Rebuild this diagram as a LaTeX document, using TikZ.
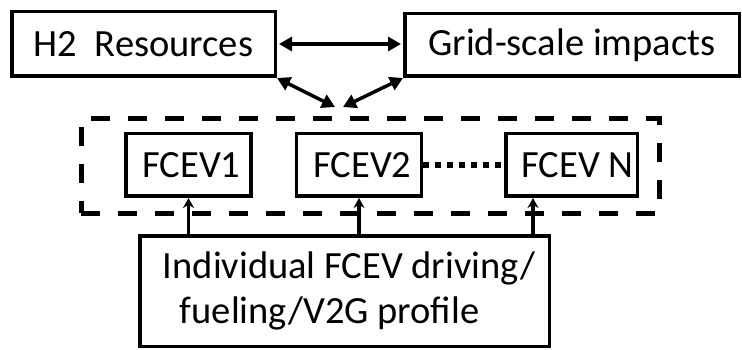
\documentclass[tikz,border=0pt]{standalone}
\usepackage{fontspec}
\setmainfont{Carlito}
\usetikzlibrary{arrows.meta}

\begin{document}
\begin{tikzpicture}[
    x=1pt, y=-1pt,
    font=\fontsize{38.5}{45}\selectfont,
    box/.style={
        rectangle,
        draw=black,
        line width=3.5pt,
        inner sep=0pt,
        align=center
    },
    fcev/.style={box, minimum width=125pt, minimum height=62.5pt},
    link/.style={{Triangle[length=13pt,width=14pt]}-{Triangle[length=13pt,width=14pt]}, line width=3.5pt},
    feed/.style={-{Stealth[length=10pt,width=11pt]}, line width=3.5pt},
    group/.style={draw=black, line width=5pt, dash pattern=on 19pt off 18pt},
    chain/.style={line width=5.5pt, dash pattern=on 5.5pt off 6.5pt}
]

\useasboundingbox (0,0) rectangle (742,350);

% =========================================================
% Top level
% =========================================================
\node[box, minimum width=263.5pt, minimum height=64.5pt] (h2) at (143.5,44) {H2\ \ Resources};
\node[box, minimum width=334.5pt, minimum height=62.5pt] (grid) at (572,45) {Grid-scale impacts};

% =========================================================
% Vehicle fleet
% =========================================================
\node[group, minimum width=578pt, minimum height=94pt, inner sep=0pt] (fleet) at (370,166) {};

\node[fcev] (f1) at (188.5,165) {\hspace*{6pt}FCEV1};
\node[fcev] (f2) at (359,165) {\hspace*{7pt}FCEV2};
\node[fcev, minimum width=131.5pt] (fN) at (571.5,165) {\hspace*{12pt}FCEV N};

\draw[chain] (f2.east) -- (fN.west);

% =========================================================
% Input profile
% =========================================================
\node[box, minimum width=409.5pt, minimum height=110.5pt, align=left] (inp) at (344.5,291)
    {\hspace*{9pt}Individual FCEV driving/\\\hspace*{26pt}fueling/V2G profile};

% Links
\coordinate (hubL) at (335,107);
\coordinate (hubR) at (343,107);

\draw[link, shorten <=2pt, shorten >=2pt] (h2.east) -- (h2.east -| grid.west);
\draw[link] (h2.south east) -- (hubL);
\draw[link] (grid.south west) -- (hubR);

\draw[feed] (f1.south |- inp.north) -- (f1.south);
\draw[feed] (f2.south |- inp.north) -- (f2.south);
\draw[feed] ([xshift=-38.5pt]fN.south |- inp.north) -- ([xshift=-38.5pt]fN.south);

\end{tikzpicture}
\end{document}
